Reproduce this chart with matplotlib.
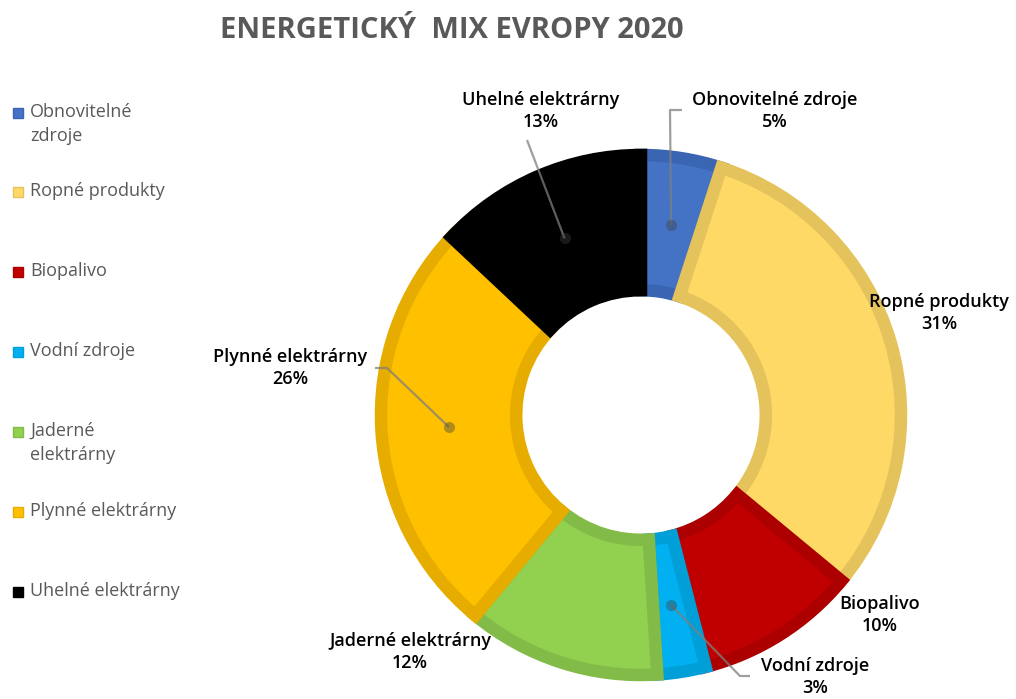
import matplotlib.pyplot as plt
import numpy as np
from matplotlib.patches import Rectangle

labels = ['Obnovitelné zdroje', 'Ropné produkty', 'Biopalivo', 'Vodní zdroje',
          'Jaderné elektrárny', 'Plynné elektrárny', 'Uhelné elektrárny']
legend_labels = ['Obnovitelné\nzdroje', 'Ropné produkty', 'Biopalivo', 'Vodní zdroje',
                 'Jaderné\nelektrárny', 'Plynné elektrárny', 'Uhelné elektrárny']
values = [5, 31, 10, 3, 12, 26, 13]
fills = ['#4472C4', '#FFD966', '#C00000', '#00B0F0', '#92D050', '#FFC000', '#000000']
edges = ['#3A65B3', '#E5C35C', '#AC0000', '#009FD8', '#83BB48', '#E6AD00', '#000000']

W, H = 1016, 699
CX, CY, R = 641, 415, 260   # donut centre / radius in pixels


def to_data(px, py):
    return (px - CX) / R, (CY - py) / R


fig = plt.figure(figsize=(W / 100, H / 100), dpi=100)
ax = fig.add_axes([0, 0, 1, 1])

wedges, _ = ax.pie(values, colors=fills, startangle=90, counterclock=False,
                   radius=1, wedgeprops=dict(width=0.52, linewidth=9))
for w, ec in zip(wedges, edges):
    w.set_edgecolor(ec)
    w.set_clip_path(w)   # keep only the inner half of the border

ax.set_xlim(-CX / R, (W - CX) / R)
ax.set_ylim(-(H - CY) / R, CY / R)
ax.axis('off')

# label positions (pixels) and leader lines
label_pos = {
    'Obnovitelné zdroje': (775, 111),
    'Ropné produkty': (939, 313),
    'Biopalivo': (880, 615),
    'Vodní zdroje': (815, 677),
    'Jaderné elektrárny': (410, 652),
    'Plynné elektrárny': (290, 368),
    'Uhelné elektrárny': (541, 111),
}
leaders = {
    'Obnovitelné zdroje': [(670, 110), (682, 110)],
    'Vodní zdroje': [(740, 676), (750, 676)],
    'Uhelné elektrárny': [(527, 140)],
    'Plynné elektrárny': [(387, 368), (375, 368)],
}

cum = np.cumsum([0] + values)
total = cum[-1]
for i, lab in enumerate(labels):
    x, y = to_data(*label_pos[lab])
    ax.text(x, y, f'{lab}\n{values[i]}%', ha='center', va='center',
            fontsize=13, fontweight='semibold', family='Open Sans',
            color='#000000', linespacing=1.3)
    if lab in leaders:
        mid = (cum[i] + cum[i + 1]) / 2
        ang = np.deg2rad(90 - 360 * mid / total)
        rr = 1 - 0.52 / 2
        dx, dy = rr * np.cos(ang), rr * np.sin(ang)
        pts = [(dx, dy)] + [to_data(*p) for p in leaders[lab]]
        xs, ys = zip(*pts)
        ax.plot(xs, ys, color='#7F7F7F', lw=1.6, alpha=0.75, solid_capstyle='butt')
        ax.plot(dx, dy, 'o', color='#404040', alpha=0.4, ms=8, mec='none')

fig.text(452 / W, 1 - 30 / H, 'ENERGETICKÝ  MIX EVROPY 2020', ha='center', va='center',
         fontsize=21, fontweight='bold', family='Open Sans', color='#595959')

# legend
leg_y = [113, 192, 272, 352, 432, 512, 592]
for lab, c, ec, y in zip(legend_labels, fills, edges, leg_y):
    fig.add_artist(Rectangle((13 / W, 1 - (y + 5) / H), 10 / W, 10 / H,
                             transform=fig.transFigure, facecolor=c, edgecolor=ec, lw=1))
    fig.text(30 / W, 1 - (y - 10) / H, lab, ha='left', va='top', fontsize=13,
             family='Open Sans', color='#595959', linespacing=1.4)

fig.savefig('out.png', dpi=100)
